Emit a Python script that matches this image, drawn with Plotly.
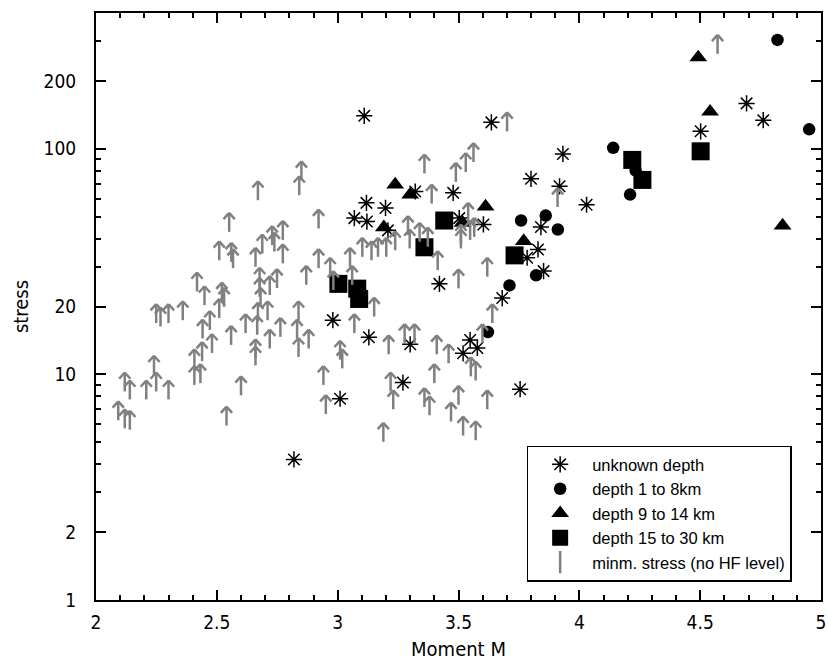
import plotly.graph_objects as go

# ---------------- data ----------------
# unknown depth
unk_m = [3.110, 3.119, 3.198, 3.069, 3.121, 3.208, 3.321, 3.478, 3.503, 3.603,
         3.636, 3.800, 3.918, 3.932, 4.030, 3.841, 3.829, 3.784, 3.852, 3.681,
         3.421, 2.980, 3.129, 3.300, 3.548, 3.578, 3.519, 3.010, 3.270, 3.755,
         2.819, 4.502, 4.692, 4.761]
unk_s = [140, 57.6, 54.7, 49.3, 47.6, 43.5, 64.7, 63.8, 49.3, 46.2,
         131, 73.6, 68.2, 94.9, 56.5, 45.0, 35.8, 32.9, 28.7, 21.8,
         25.2, 17.4, 14.6, 13.6, 14.2, 13.1, 12.4, 7.8, 9.2, 8.6,
         4.2, 119.6, 159, 134]

# depth 1 to 8 km
d1_m = [4.820, 4.951, 4.140, 4.233, 4.210, 3.759, 3.861, 3.911, 3.821, 3.711, 3.622]
d1_s = [304, 122, 101, 80.1, 62.7, 48.1, 50.6, 43.9, 27.5, 24.8, 15.4]

# depth 9 to 14 km
d2_m = [4.492, 4.541, 4.841, 3.238, 3.300, 3.191, 3.517, 3.612, 3.770]
d2_s = [254, 146, 45.7, 69.4, 62.7, 44.9, 47.0, 55.5, 39.0]

# depth 15 to 30 km
d3_m = [4.219, 4.261, 4.502, 3.441, 3.359, 3.732, 3.003, 3.081, 3.089]
d3_s = [89.3, 72.8, 97.5, 48.1, 36.6, 33.7, 25.2, 24.0, 21.6]

# minimum stress (no HF level) - value at arrow tip
min_m = [4.572, 3.910, 3.619, 3.640, 3.701, 2.850, 2.841, 3.359, 3.562, 3.530,
         3.489, 3.389, 2.921, 2.773, 2.773, 3.540, 3.565, 3.291, 3.298, 3.339,
         3.373, 3.238, 3.201, 3.167, 3.140, 3.102, 3.414, 3.510, 3.548, 3.051,
         2.969, 2.921, 2.870, 3.060, 2.982, 3.500, 2.838, 2.763, 2.832, 2.880,
         2.838, 3.151, 3.069, 3.010, 3.019, 3.277, 3.318, 3.211, 3.410, 3.459,
         3.599, 3.551, 3.571, 2.941, 2.951, 3.219, 3.230, 3.400, 3.359, 3.380,
         3.500, 3.469, 3.619, 3.519, 3.571, 3.189, 3.510, 2.670, 2.551, 2.729,
         2.738, 2.688, 2.510, 2.560, 2.567, 2.660, 2.418, 2.449, 2.521, 2.530,
         2.510, 2.677, 2.677, 2.681, 2.719, 2.749, 2.670, 2.710, 2.667, 2.619,
         2.249, 2.267, 2.300, 2.359, 2.441, 2.471, 2.559, 2.719, 2.480, 2.439,
         2.407, 2.407, 2.432, 2.660, 2.660, 2.240, 2.249, 2.119, 2.140, 2.208,
         2.300, 2.092, 2.119, 2.140, 2.540, 2.600]
min_s = [320, 67, 32.9, 20.5, 145, 88, 75.6, 94.4, 106, 95.8,
         86.6, 69.4, 53.8, 47.9, 37.7, 57.6, 49.4, 50.3, 43.9, 47.0,
         44.7, 43.1, 40.3, 40.3, 38.9, 40.3, 35.2, 46.2, 47.9, 36.4,
         32.9, 35.9, 30.3, 30.3, 28.7, 29.2, 21.1, 17.8, 17.5, 15.8,
         14.5, 21.9, 18.5, 14.1, 12.9, 16.7, 16.7, 14.9, 14.9, 13.6,
         16.7, 11.9, 11.4, 10.9, 8.1, 10.2, 8.5, 11.1, 8.7, 8.0,
         8.9, 7.5, 8.5, 6.5, 6.2, 6.1, 43.9, 71.8, 52.0, 45.4,
         42.5, 41.7, 38.9, 38.3, 35.9, 36.4, 28.3, 24.6, 25.5, 24.2,
         21.6, 29.7, 26.8, 24.2, 27.3, 29.3, 20.8, 21.1, 18.2, 18.5,
         20.5, 19.8, 20.5, 21.1, 17.5, 19.1, 16.4, 15.8, 15.1, 13.9,
         12.9, 10.9, 11.1, 14.3, 13.3, 12.1, 10.2, 10.2, 9.4, 9.4,
         9.4, 7.6, 7.0, 6.9, 7.2, 9.8]

# axes ticks
x_major = [2, 2.5, 3, 3.5, 4, 4.5, 5]
x_major_text = ["2", "2.5", "3", "3.5", "4", "4.5", "5"]
y_major = [1, 2, 10, 20, 100, 200]
y_major_text = ["1", "2", "10", "20", "100", "200"]
y_minor = [3, 4, 5, 6, 7, 8, 9, 30, 40, 50, 60, 70, 80, 90, 300]

# ---------------- figure ----------------
GRAY = "rgb(128,128,128)"
FONT = "Liberation Sans, Arial, Helvetica, sans-serif"
NARROW = "Liberation Sans Narrow, DejaVu Sans Condensed, Liberation Sans, sans-serif"

fig = go.Figure()
fig.add_trace(go.Scatter(
    x=unk_m, y=unk_s, mode="markers", name="unknown depth",
    marker=dict(symbol="asterisk-open", size=13.5, color="black",
                line=dict(width=1.5, color="black"))))
fig.add_trace(go.Scatter(
    x=d1_m, y=d1_s, mode="markers", name="depth 1 to 8km",
    marker=dict(symbol="circle", size=12.5, color="black", line=dict(width=0))))
fig.add_trace(go.Scatter(
    x=d2_m, y=d2_s, mode="markers", name="depth 9 to 14 km",
    marker=dict(symbol="triangle-up", size=15.5, color="black", line=dict(width=0))))
fig.add_trace(go.Scatter(
    x=d3_m, y=d3_s, mode="markers", name="depth 15 to 30 km",
    marker=dict(symbol="square", size=18, color="black", line=dict(width=0))))

# legend entry for the arrows
fig.add_trace(go.Scatter(
    x=[None], y=[None], mode="markers", name="minm. stress (no HF level)",
    legendgroup="arr",
    marker=dict(symbol="line-ns", size=16, color=GRAY,
                line=dict(width=2.5, color=GRAY))))
# arrows: stem + two head arms, all starting at the tip
fig.add_trace(go.Scatter(
    x=min_m, y=min_s, mode="markers", showlegend=False, legendgroup="arr",
    marker=dict(symbol="line-ns", size=13.5, angle=0, standoff=9.5, color=GRAY,
                line=dict(width=2.5, color=GRAY))))
for ang in (42, -42):
    fig.add_trace(go.Scatter(
        x=min_m, y=min_s, mode="markers", showlegend=False, legendgroup="arr",
        hoverinfo="skip",
        marker=dict(symbol="line-ns", size=6, angle=ang, standoff=4.2, color=GRAY,
                    line=dict(width=2.5, color=GRAY))))

x_minor = [round(2 + 0.1 * i, 1) for i in range(1, 30) if i % 5 != 0]

fig.update_layout(
    width=828, height=665,
    margin=dict(l=96, r=2, t=13, b=65),
    plot_bgcolor="white", paper_bgcolor="white",
    font=dict(family=FONT, size=16, color="black"),
    showlegend=True,
    legend=dict(x=0.594, y=0.263, xanchor="left", yanchor="top",
                bordercolor="black", borderwidth=1.5, bgcolor="white",
                font=dict(size=16.5, family=FONT), itemwidth=54,
                tracegroupgap=0),
)
fig.update_xaxes(
    range=[2, 5], tickmode="array", tickvals=x_major, ticktext=x_major_text,
    ticks="inside", ticklen=10, tickwidth=1.5, tickcolor="black",
    showline=True, linewidth=2, linecolor="black", mirror="ticks",
    showgrid=False, zeroline=False, ticklabelstandoff=4,
    ticklabeloverflow="allow", tickfont=dict(family=NARROW, size=19),
    minor=dict(tickmode="array", tickvals=x_minor, ticks="inside", ticklen=5,
               tickwidth=1.5, tickcolor="black", showgrid=False),
    title=dict(text="Moment M", standoff=10, font=dict(family=NARROW, size=20)),
)
fig.update_yaxes(
    type="log", range=[0, 2.60206], tickmode="array", tickvals=y_major,
    ticktext=y_major_text,
    ticks="inside", ticklen=10, tickwidth=1.5, tickcolor="black",
    showline=True, linewidth=2, linecolor="black", mirror="ticks",
    showgrid=False, zeroline=False, ticklabelstandoff=14,
    ticklabeloverflow="allow", tickfont=dict(family=NARROW, size=19),
    minor=dict(tickmode="array", tickvals=y_minor, ticks="inside", ticklen=5,
               tickwidth=1.5, tickcolor="black", showgrid=False),
    title=dict(text="stress", standoff=10, font=dict(family=NARROW, size=20)),
)

fig.write_html("out.html")
